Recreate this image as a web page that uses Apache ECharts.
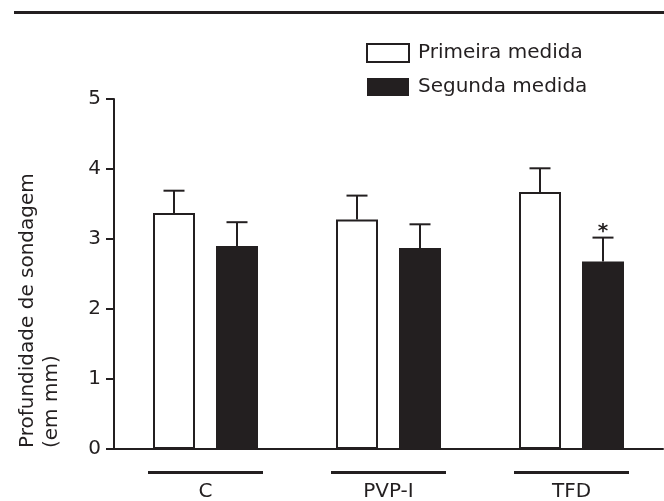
<!DOCTYPE html>
<html>
<head>
<meta charset="utf-8">
<script src="https://cdn.jsdelivr.net/npm/echarts@6/dist/echarts.min.js"></script>
<style>
  html, body { margin: 0; padding: 0; background: #fff; }
  #chart-wrapper { width: 664px; height: 501px; }
</style>
</head>
<body>
<div id="chart-wrapper"></div>
<script>
const categories = ["C", "PVP-I", "TFD"];
const primeira = [3.37, 3.28, 3.67];
const segunda = [2.9, 2.87, 2.68];
const primeiraErr = [0.32, 0.34, 0.34];
const segundaErr = [0.34, 0.34, 0.34];
const signif = ["", "", "*"];
const yTicks = [0, 1, 2, 3, 4, 5];

const ink = "#231f20";
const fontFamily = "DejaVu Sans";
const barWidth = 42;
const barGap = 21;

let chart;

// error bar data: [categoryIndex, mean, err, mark]
const errData = (means, errs, marks) =>
  means.map((m, i) => [i, m, errs[i], marks ? marks[i] : ""]);

const errorSeries = (means, errs, marks, offset) => ({
  type: "custom",
  z: 5,
  silent: true,
  data: errData(means, errs, marks),
  encode: { x: 0, y: 1 },
  renderItem: function (params, api) {
    const base = api.coord([api.value(0), api.value(1)]);
    const top = api.coord([api.value(0), api.value(1) + api.value(2)]);
    const x = base[0] + offset;
    const children = [
      {
        type: "line",
        shape: { x1: x, y1: base[1], x2: x, y2: top[1] },
        style: { stroke: ink, lineWidth: 2 },
      },
      {
        type: "line",
        shape: { x1: x - 10.5, y1: top[1], x2: x + 10.5, y2: top[1] },
        style: { stroke: ink, lineWidth: 2 },
      },
    ];
    const mark = api.value(3);
    if (mark) {
      children.push({
        type: "text",
        x: x,
        y: top[1] + 4,
        style: {
          text: mark,
          font: "bold 20px " + fontFamily,
          fill: ink,
          align: "center",
          verticalAlign: "bottom",
        },
      });
    }
    return { type: "group", children: children };
  },
});

const init_handler = () => {
  const chartDom = document.getElementById("chart-wrapper");
  chart = echarts.init(chartDom, null, { renderer: "canvas" });

  const option = {
    backgroundColor: "#fff",
    animation: false,
    textStyle: { fontFamily: fontFamily, color: ink },
    grid: {
      left: 114,
      right: 1,
      top: 99,
      bottom: 52,
      containLabel: false,
      outerBoundsMode: "none",
    },
    legend: {
      orient: "vertical",
      left: 366,
      top: 43,
      padding: 0,
      itemWidth: 42,
      itemHeight: 18,
      itemGap: 14,
      icon: "rect",
      textStyle: {
        fontFamily: fontFamily,
        fontSize: 20,
        color: ink,
        padding: [0, 0, 0, 4],
      },
      data: ["Primeira medida", "Segunda medida"],
    },
    xAxis: {
      type: "category",
      data: categories,
      axisLine: { show: true, lineStyle: { color: ink, width: 2 } },
      axisTick: { show: false },
      axisLabel: {
        interval: 0,
        margin: 22,
        color: ink,
        formatter: (v) => "{bar|}\n{lbl|" + v + "}",
        rich: {
          bar: { width: 115, height: 3, lineHeight: 3, backgroundColor: ink },
          lbl: {
            fontFamily: fontFamily,
            fontSize: 20,
            lineHeight: 20,
            color: ink,
            padding: [16, 0, 0, 0],
          },
        },
      },
    },
    yAxis: {
      type: "value",
      min: yTicks[0],
      max: yTicks[yTicks.length - 1],
      interval: 1,
      axisLine: { show: true, lineStyle: { color: ink, width: 2 } },
      axisTick: { show: true, inside: false, length: 8, lineStyle: { color: ink, width: 2 } },
      axisLabel: { margin: 13, fontSize: 20, color: ink, fontFamily: fontFamily },
      splitLine: { show: false },
    },
    graphic: [
      {
        type: "rect",
        left: 14,
        top: 11,
        shape: { width: 650, height: 3 },
        style: { fill: ink },
      },
      {
        type: "text",
        x: 16,
        y: 448,
        rotation: Math.PI / 2,
        style: {
          text: "Profundidade de sondagem\n(em mm)",
          font: "20px " + fontFamily,
          fill: ink,
          align: "left",
          verticalAlign: "top",
          lineHeight: 24,
        },
      },
    ],
    series: [
      {
        name: "Primeira medida",
        type: "bar",
        data: primeira,
        barWidth: barWidth,
        barGap: (barGap / barWidth) * 100 + "%",
        itemStyle: { color: "#fff", borderColor: ink, borderWidth: 2 },
      },
      {
        name: "Segunda medida",
        type: "bar",
        data: segunda,
        barWidth: barWidth,
        itemStyle: { color: ink, borderColor: ink, borderWidth: 0 },
      },
      errorSeries(primeira, primeiraErr, null, -(barWidth + barGap) / 2),
      errorSeries(segunda, segundaErr, signif, (barWidth + barGap) / 2),
    ],
  };
  chart.setOption(option);
};

init_handler();
</script>
</body>
</html>
